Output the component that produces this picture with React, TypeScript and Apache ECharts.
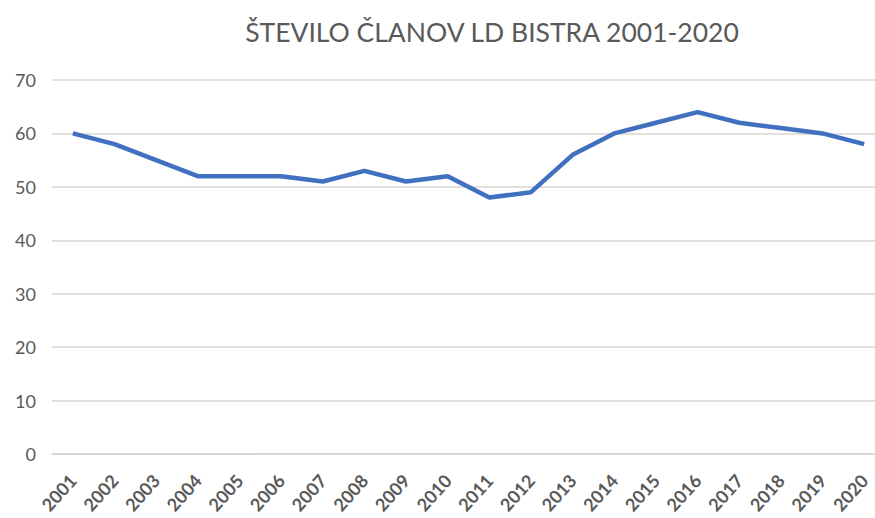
import React, { useEffect, useRef } from "react";
import * as echarts from "echarts";

const years = ["2001","2002","2003","2004","2005","2006","2007","2008","2009","2010","2011","2012","2013","2014","2015","2016","2017","2018","2019","2020"];
const members = [60, 58, 55, 52, 52, 52, 51, 53, 51, 52, 48, 49, 56, 60, 62, 64, 62, 61, 60, 58];
const titleText = "ŠTEVILO ČLANOV LD BISTRA 2001-2020";

export default function App() {
  const ref = useRef<HTMLDivElement>(null);
  useEffect(() => {
    if (!ref.current) return;
    const chart = echarts.init(ref.current, null, { renderer: "svg" });
    chart.setOption({
      animation: false,
      backgroundColor: "#ffffff",
      title: {
        text: titleText,
        left: 487,
        textAlign: "center",
        top: 13,
        textStyle: { fontFamily: "Lato", fontSize: 26.5, fontWeight: "normal", color: "#595959" },
      },
      grid: { left: 52, right: 0, top: 80, bottom: 64 },
      xAxis: {
        type: "category",
        data: years,
        boundaryGap: true,
        axisLine: { show: true, lineStyle: { color: "#d9d4d4", width: 1.5 } },
        axisTick: { show: false },
        axisLabel: { rotate: 48, color: "#595959", fontFamily: "Lato", fontSize: 18, fontWeight: "bold", margin: 23, interval: 0 },
      },
      yAxis: {
        type: "value",
        min: 0,
        max: 70,
        interval: 10,
        axisLine: { show: false },
        axisTick: { show: false },
        axisLabel: { color: "#595959", fontFamily: "Lato", fontSize: 18, margin: 16 },
        splitLine: { lineStyle: { color: "#d9d4d4", width: 1.5 } },
      },
      series: [
        {
          type: "line",
          data: members,
          symbol: "none",
          lineStyle: { color: "#4170c0", width: 4.5 },
        },
      ],
    });
    return () => chart.dispose();
  }, []);
  return (
    <div style={{ position: "absolute", left: 0, top: 0, width: 875, height: 518, overflow: "hidden" }}>
      <div ref={ref} style={{ width: 885, height: 518 }} />
    </div>
  );
}
